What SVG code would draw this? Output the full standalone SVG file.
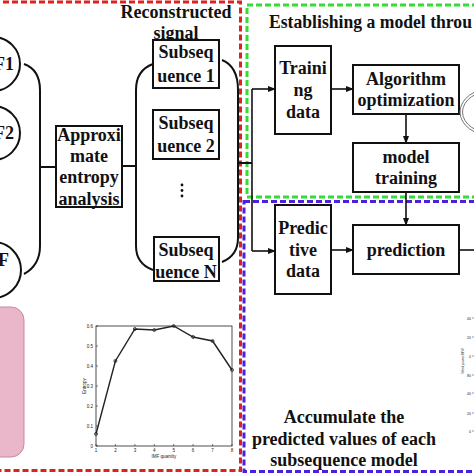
<svg xmlns="http://www.w3.org/2000/svg" width="474" height="474" viewBox="0 0 474 474">
<defs>
<marker id="ah" markerWidth="8" markerHeight="6" refX="7" refY="3" orient="auto" markerUnits="userSpaceOnUse">
<path d="M0,0 L8,3 L0,6 Z" fill="#111"/>
</marker>
<style>
.t{font-family:"Liberation Serif","Times New Roman",serif;font-weight:bold;font-size:18px;fill:#111;text-anchor:middle}
.box{fill:#fff;stroke:#111;stroke-width:2}
.ln{fill:none;stroke:#111;stroke-width:2}
.ar{fill:none;stroke:#111;stroke-width:1.6;marker-end:url(#ah)}
.circ{fill:#fff;stroke:#111;stroke-width:2}
.sm{font-family:"Liberation Sans",Arial,sans-serif;font-size:4.5px;fill:#222}
</style>
</defs>
<rect width="474" height="474" fill="#fff"/>

<!-- dashed regions -->
<g id="regions" fill="none" stroke-width="3" stroke-dasharray="6,3">
<rect x="-6" y="2" width="246.5" height="468.5" stroke="#dd2222"/>
<rect x="247" y="5" width="240" height="192" stroke="#33dd33"/>
<rect x="244" y="201.5" width="240" height="270" stroke="#4a22dd"/>
</g>

<g id="titles">
<text class="t" x="176" y="18">Reconstructed</text>
<text class="t" x="176" y="39">signal</text>
<text class="t" x="269" y="28" style="text-anchor:start" textLength="203" lengthAdjust="spacingAndGlyphs">Establishing a model throu</text>
<text class="t" x="344" y="423">Accumulate the</text>
<text class="t" x="344" y="445">predicted values of each</text>
<text class="t" x="344" y="466">subsequence model</text>
</g>

<g id="connectors">
<path class="ln" d="M24,64 C35,68 40,77 40,90 L40,246 C40,259 35,268 24,274"/>
<path class="ln" d="M40,167 L56,167"/>
<path class="ln" d="M122,166 L136,166"/>
<path class="ln" d="M153,64 C142,68 136,77 136,90 L136,246 C136,258 142,266 153,270"/>
<path class="ln" d="M222,60 C232,64 238,74 238,90 L238,238 C238,250 232,258 222,262"/>
<path class="ln" d="M238,163 L252,163"/>
<path class="ln" d="M252,89 L252,251" style="stroke-width:1.6"/>
<path class="ar" d="M252,89 L275,89"/>
<path class="ar" d="M252,251 L275,251"/>
<path class="ar" d="M331,89 L353,89"/>
<path class="ar" d="M406,114 L406,143"/>
<path class="ar" d="M406,192 L406,225"/>
<path class="ar" d="M331,250 L353,250"/>
<path class="ln" d="M459,250 L476,250" style="stroke-width:1.6"/>
</g>

<g id="F1"><circle class="circ" cx="-7" cy="64" r="27"/><text class="t" x="14" y="70" style="text-anchor:end">F1</text></g>
<g id="F2"><circle class="circ" cx="-7" cy="133" r="27"/><text class="t" x="14" y="139" style="text-anchor:end">F2</text></g>
<g id="F"><circle class="circ" cx="-7" cy="270" r="28"/><text class="t" x="9" y="266" style="text-anchor:end">F</text></g>

<g id="pink"><rect x="-20" y="307" width="44" height="150" rx="13" fill="#e9b6ca" stroke="#c9899f" stroke-width="1"/></g>

<g id="approx">
<rect class="box" x="56" y="126" width="66" height="81"/>
<text class="t" x="89" y="141">Approxi</text>
<text class="t" x="89" y="162">mate</text>
<text class="t" x="89" y="183">entropy</text>
<text class="t" x="89" y="205">analysis</text>
</g>

<g id="sub1"><rect class="box" x="153" y="40" width="66" height="48"/>
<text class="t" x="186" y="58">Subseq</text><text class="t" x="186" y="82">uence 1</text></g>
<g id="sub2"><rect class="box" x="153" y="110" width="66" height="49"/>
<text class="t" x="186" y="129">Subseq</text><text class="t" x="186" y="152">uence 2</text></g>
<g id="dots" fill="#111"><circle cx="182" cy="185" r="1.4"/><circle cx="182" cy="190.5" r="1.4"/><circle cx="182" cy="196" r="1.4"/></g>
<g id="subN"><rect class="box" x="154" y="237" width="65" height="44"/>
<text class="t" x="186" y="256">Subseq</text><text class="t" x="186" y="278">uence N</text></g>

<g id="training"><rect class="box" x="275" y="46" width="56" height="88"/>
<text class="t" x="303" y="74">Traini</text><text class="t" x="303" y="96">ng</text><text class="t" x="303" y="118">data</text></g>
<g id="algo"><rect class="box" x="353" y="65" width="106" height="49"/>
<text class="t" x="406" y="85">Algorithm</text><text class="t" x="406" y="106">optimization</text></g>
<g id="ellipse" fill="none" stroke="#777" stroke-width="1"><ellipse cx="493" cy="112" rx="33" ry="24"/><ellipse cx="493" cy="112" rx="30.5" ry="21.5"/></g>
<g id="mtrain"><rect class="box" x="353" y="143" width="106" height="49"/>
<text class="t" x="406" y="163">model</text><text class="t" x="406" y="184">training</text></g>
<g id="predictive"><rect class="box" x="275" y="205" width="56" height="89"/>
<text class="t" x="303" y="234">Predic</text><text class="t" x="303" y="256">tive</text><text class="t" x="303" y="277">data</text></g>
<g id="prediction"><rect class="box" x="353" y="225" width="106" height="49"/>
<text class="t" x="406" y="256">prediction</text></g>

<g id="entropy-chart">
<rect x="96" y="326" width="136" height="120" fill="none" stroke="#222" stroke-width="0.8"/>
<g stroke="#222" stroke-width="0.6">
<path d="M96,326h2M96,346h2M96,366h2M96,386h2M96,406h2M96,426h2M96,446h2"/>
<path d="M96,446v-2M115.4,446v-2M134.9,446v-2M154.3,446v-2M173.7,446v-2M193.1,446v-2M212.6,446v-2M232,446v-2"/>
</g>
<g class="sm" text-anchor="end">
<text x="93" y="327.5">0.6</text><text x="93" y="347.5">0.5</text><text x="93" y="367.5">0.4</text><text x="93" y="387.5">0.3</text><text x="93" y="407.5">0.2</text><text x="93" y="427.5">0.1</text><text x="93" y="447.5">0</text>
</g>
<g class="sm" text-anchor="middle">
<text x="96" y="451.5">1</text><text x="115.4" y="451.5">2</text><text x="134.9" y="451.5">3</text><text x="154.3" y="451.5">4</text><text x="173.7" y="451.5">5</text><text x="193.1" y="451.5">6</text><text x="212.6" y="451.5">7</text><text x="232" y="451.5">8</text>
<text x="164" y="458">IMF quantity</text>
<text x="0" y="0" transform="translate(86,386) rotate(-90)">Entropy</text>
</g>
<polyline points="96,434 115.4,361 134.9,329 154.3,330 173.7,326 193.1,337 212.6,341 232,370" fill="none" stroke="#222" stroke-width="1.4"/>
<g fill="none" stroke="#222" stroke-width="0.8">
<circle cx="96" cy="434" r="1.5"/><circle cx="115.4" cy="361" r="1.5"/><circle cx="134.9" cy="329" r="1.5"/><circle cx="154.3" cy="330" r="1.5"/><circle cx="173.7" cy="326" r="1.5"/><circle cx="193.1" cy="337" r="1.5"/><circle cx="212.6" cy="341" r="1.5"/><circle cx="232" cy="370" r="1.5"/>
</g>
</g>

<g id="wind-chart" class="sm">
<text x="471" y="319.5" text-anchor="end" style="font-size:3.5px">40</text>
<text x="471" y="338.5" text-anchor="end" style="font-size:3.5px">20</text>
<text x="471" y="357.5" text-anchor="end" style="font-size:3.5px">0</text>
<text x="471" y="376.5" text-anchor="end" style="font-size:3.5px">80</text>
<text x="471" y="394.5" text-anchor="end" style="font-size:3.5px">40</text>
<text x="471" y="414.5" text-anchor="end" style="font-size:3.5px">20</text>
<text x="471" y="432.5" text-anchor="end" style="font-size:3.5px">0</text>
<g stroke="#333" stroke-width="0.5"><path d="M472,318h2M472,337h2M472,356h2M472,375h2M472,393h2M472,413h2M472,431h2"/></g>
<text x="0" y="0" transform="translate(464,361) rotate(-90)" text-anchor="middle" style="font-size:3.5px">Wind power/MW</text>
</g>
</svg>
